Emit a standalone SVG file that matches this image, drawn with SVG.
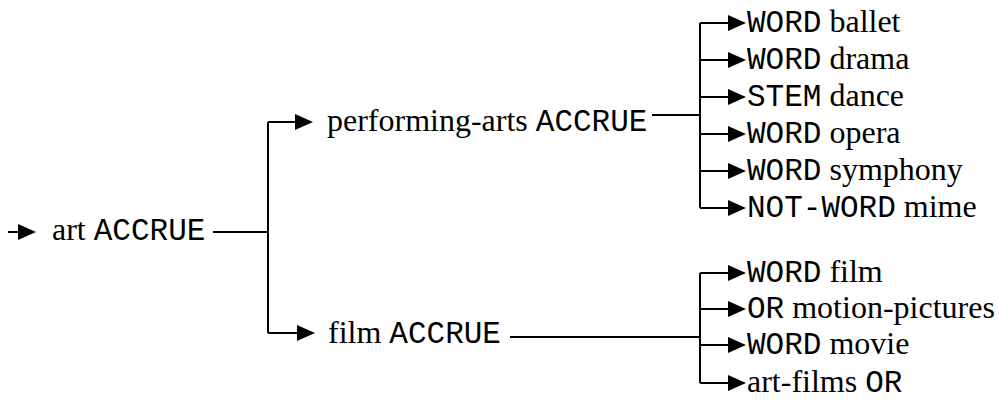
<svg xmlns="http://www.w3.org/2000/svg" width="999" height="402" viewBox="0 0 999 402">
  <style>
    .lbl { font-family: "Liberation Serif", "Times New Roman", serif; font-size: 32px; fill: #000; }
    .kw { font-family: "Liberation Mono", "Courier New", monospace; font-size: 31px; }
    .wire { fill: none; stroke: #000; stroke-width: 2; }
  </style>
  <defs>
    <marker id="tri" viewBox="0 0 18 16" refX="14" refY="8" markerWidth="18" markerHeight="16" markerUnits="userSpaceOnUse" orient="auto">
      <path d="M0,0 L18,8 L0,16 Z" fill="#000"/>
    </marker>
  </defs>

  <!-- connectors -->
  <g id="connectors" class="wire">
    <!-- entry arrow -->
    <path d="M8,232 H32" marker-end="url(#tri)"/>
    <!-- art ACCRUE fan-out -->
    <path d="M213,232 H268"/>
    <path d="M268,122 V333"/>
    <path d="M268,122 H309" marker-end="url(#tri)"/>
    <path d="M268,333 H311" marker-end="url(#tri)"/>
    <!-- performing-arts ACCRUE fan-out -->
    <path d="M652,115 H700"/>
    <path d="M700,23 V208"/>
    <path d="M700,23 H742" marker-end="url(#tri)"/>
    <path d="M700,60 H742" marker-end="url(#tri)"/>
    <path d="M700,97 H742" marker-end="url(#tri)"/>
    <path d="M700,134 H742" marker-end="url(#tri)"/>
    <path d="M700,171 H742" marker-end="url(#tri)"/>
    <path d="M700,208 H742" marker-end="url(#tri)"/>
    <!-- film ACCRUE fan-out -->
    <path d="M510,337 H700"/>
    <path d="M700,273 V383"/>
    <path d="M700,273 H742" marker-end="url(#tri)"/>
    <path d="M700,309 H742" marker-end="url(#tri)"/>
    <path d="M700,345 H742" marker-end="url(#tri)"/>
    <path d="M700,383 H742" marker-end="url(#tri)"/>
  </g>

  <g id="art"><text class="lbl" x="52" y="240">art <tspan class="kw">ACCRUE</tspan></text></g>
  <g id="performing-arts"><text class="lbl" x="327" y="131">performing-arts <tspan class="kw">ACCRUE</tspan></text></g>
  <g id="film"><text class="lbl" x="328" y="343">film <tspan class="kw">ACCRUE</tspan></text></g>

  <g id="ballet"><text class="lbl" x="747" y="32"><tspan class="kw">WORD</tspan> ballet</text></g>
  <g id="drama"><text class="lbl" x="747" y="69"><tspan class="kw">WORD</tspan> drama</text></g>
  <g id="dance"><text class="lbl" x="747" y="106"><tspan class="kw">STEM</tspan> dance</text></g>
  <g id="opera"><text class="lbl" x="747" y="143"><tspan class="kw">WORD</tspan> opera</text></g>
  <g id="symphony"><text class="lbl" x="747" y="180"><tspan class="kw">WORD</tspan> symphony</text></g>
  <g id="mime"><text class="lbl" x="747" y="217"><tspan class="kw">NOT-WORD</tspan> mime</text></g>

  <g id="film-word"><text class="lbl" x="747" y="282"><tspan class="kw">WORD</tspan> film</text></g>
  <g id="motion-pictures"><text class="lbl" x="747" y="318"><tspan class="kw">OR</tspan> motion-pictures</text></g>
  <g id="movie"><text class="lbl" x="747" y="354"><tspan class="kw">WORD</tspan> movie</text></g>
  <g id="art-films"><text class="lbl" x="747" y="392">art-films <tspan class="kw">OR</tspan></text></g>
</svg>
